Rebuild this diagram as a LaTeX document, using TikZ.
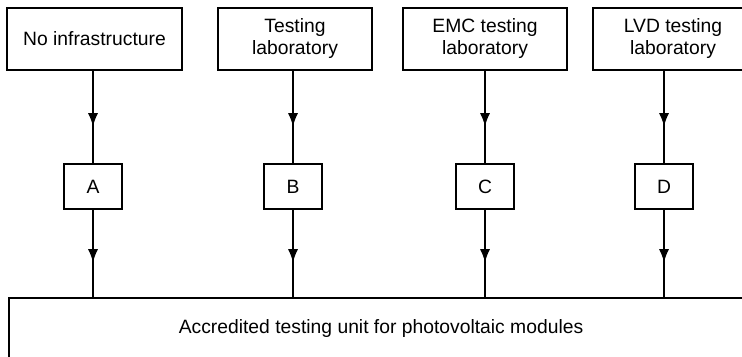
\documentclass[tikz,border=0pt]{standalone}
\usepackage{fontspec}
\setmainfont{Liberation Sans}
\usetikzlibrary{arrows.meta, decorations.markings, positioning}

\begin{document}
\begin{tikzpicture}[x=1pt, y=1pt, node distance=46pt, every node/.style={align=center, font=\fontsize{9.65}{11}\selectfont},
  labbox/.style={draw, line width=1pt, minimum height=31pt, inner sep=2pt},
  letterbox/.style={draw, line width=1pt, minimum width=29pt, minimum height=22.5pt},
  unitbox/.style={draw, line width=1pt, minimum width=372pt, minimum height=31pt},
  flow/.style={line width=0.6pt, postaction={decorate}, decoration={markings, mark=at position 0.6 with {\arrow{Latex[length=6.5pt, width=5pt]}}}}]
\path[use as bounding box] (0,0) rectangle (371,-178.5);
\clip (0,0) rectangle (371,-178.5);
\node[labbox, minimum width=87.5pt] (none) at (47.25,-19.5) {No infrastructure};
\node[labbox, minimum width=77pt] (test) at (147.5,-19.5) {Testing\\laboratory};
\node[labbox, minimum width=82pt] (emc) at (242.5,-19.5) {EMC testing\\laboratory};
\node[labbox, minimum width=80pt] (lvd) at (336.5,-19.5) {LVD testing\\laboratory};
\node[letterbox, below=of none, xshift=-0.75pt] (a) {A};
\node[letterbox, below=of test, xshift=-1pt] (b) {B};
\node[letterbox, below=of emc] (c) {C};
\node[letterbox, below=of lvd, xshift=-4.5pt] (d) {D};
\node[unitbox, anchor=north west] (unit) at (4,-148.5) {Accredited testing unit for photovoltaic modules};
\draw[flow] (a.north |- none.south) -- (a.north);
\draw[flow] (b.north |- test.south) -- (b.north);
\draw[flow] (c.north |- emc.south) -- (c.north);
\draw[flow] (d.north |- lvd.south) -- (d.north);
\draw[flow] (a.south) -- (a.south |- unit.north);
\draw[flow] (b.south) -- (b.south |- unit.north);
\draw[flow] (c.south) -- (c.south |- unit.north);
\draw[flow] (d.south) -- (d.south |- unit.north);
\end{tikzpicture}
\end{document}
